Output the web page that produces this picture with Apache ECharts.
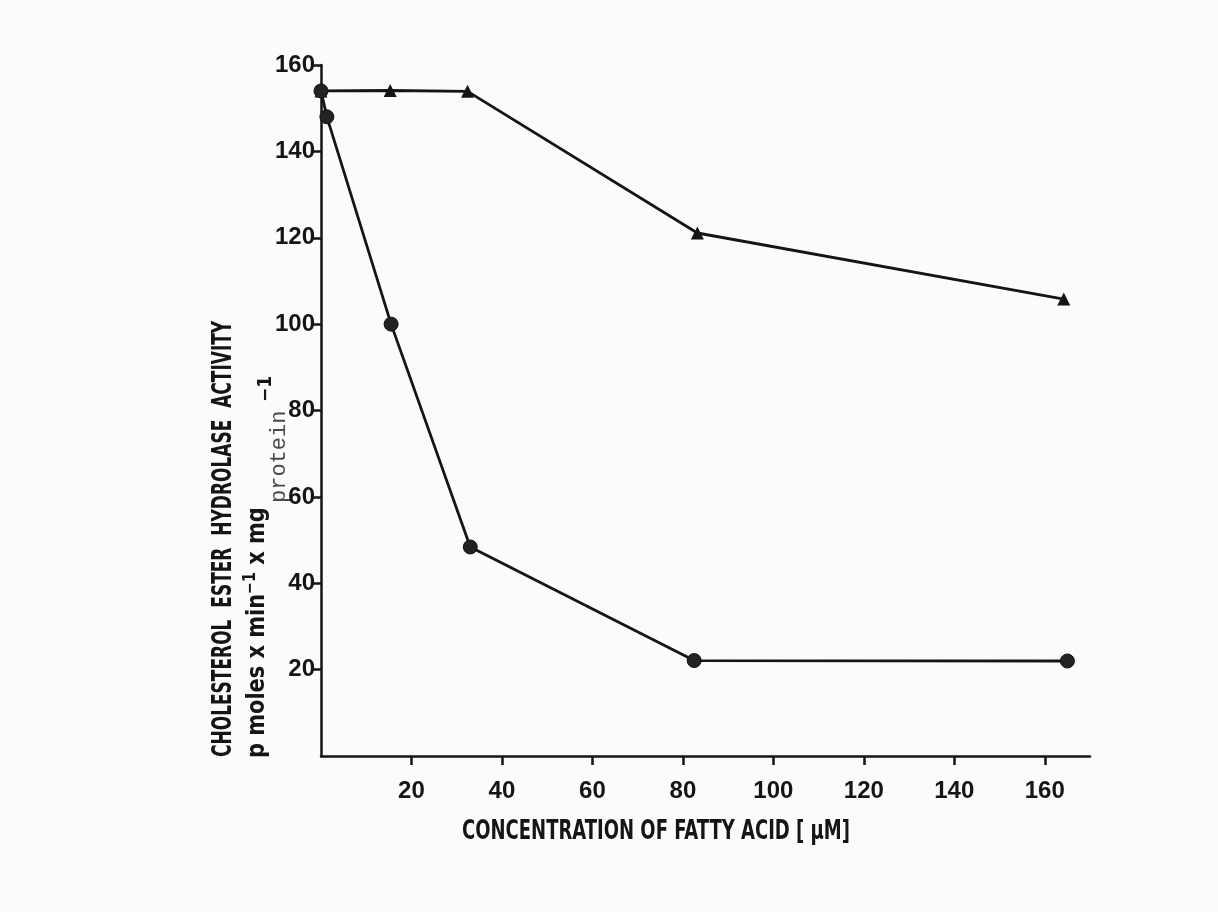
<!DOCTYPE html>
<html>
<head>
<meta charset="utf-8">
<script src="https://cdn.jsdelivr.net/npm/echarts@6/dist/echarts.min.js"></script>
<style>
html,body{margin:0;padding:0;background:#fbfbfa;}
#c{width:1218px;height:912px;}
</style>
</head>
<body>
<div id="c"></div>
<script>
// Data (concentration in µM, activity in pmol/min/mg protein)
const triangleX = [0, 15.3, 32.4, 83.2, 164.2];
const triangleY = [154, 154.1, 153.9, 121.1, 105.8];
const circleX = [0, 1.3, 15.5, 33.0, 82.5, 165.0];
const circleY = [154, 148, 100, 48.4, 22.1, 22.0];
const xTicks = [20, 40, 60, 80, 100, 120, 140, 160];
const yTicks = [20, 40, 60, 80, 100, 120, 140, 160];
const xTitle = 'CONCENTRATION OF FATTY ACID [ \u03bcM]';
const yTitle1 = 'CHOLESTEROL  ESTER  HYDROLASE  ACTIVITY';

const FONT = '"DejaVu Sans Condensed", "DejaVu Sans", sans-serif';
const TICKFONT = '"Liberation Sans", Arial, sans-serif';
const ink = '#151515';

const chart = echarts.init(document.getElementById('c'), null, {renderer: 'canvas'});

const tri = triangleX.map((x, i) => [x, triangleY[i]]);
const cir = circleX.map((x, i) => [x, circleY[i]]);

chart.setOption({
  backgroundColor: '#fbfbfa',
  animation: false,
  grid: {left: 321, right: 128, top: 65, bottom: 156, containLabel: false},
  xAxis: {
    type: 'value', min: 0, max: 170, interval: 20,
    splitLine: {show: false},
    axisLine: {show: true, lineStyle: {color: ink, width: 2.5}},
    axisTick: {show: true, length: 9, customValues: xTicks, lineStyle: {color: ink, width: 2.5}},
    axisLabel: {customValues: xTicks, color: ink, fontFamily: TICKFONT, fontWeight: 'bold', fontSize: 24, margin: 23}
  },
  yAxis: {
    type: 'value', min: 0, max: 160, interval: 20,
    splitLine: {show: false},
    axisLine: {show: true, lineStyle: {color: ink, width: 2.5}},
    axisTick: {show: true, length: 8, customValues: yTicks, lineStyle: {color: ink, width: 2.5}},
    axisLabel: {customValues: yTicks, color: ink, fontFamily: TICKFONT, fontWeight: 'bold', fontSize: 24, margin: 6}
  },
  series: [
    {
      type: 'line', data: tri, symbol: 'triangle', symbolSize: 13,
      lineStyle: {color: ink, width: 2.8},
      itemStyle: {color: ink},
      z: 2
    },
    {
      type: 'line', data: cir, symbol: 'circle', symbolSize: 14,
      lineStyle: {color: ink, width: 2.8},
      itemStyle: {color: '#222', borderColor: '#111', borderWidth: 1},
      z: 3
    }
  ],
  graphic: [
    {
      type: 'text', x: 462, y: 832, scaleX: 0.77,
      style: {text: xTitle, fill: ink, font: 'bold 26px ' + FONT, align: 'left', verticalAlign: 'middle'}
    },
    {
      type: 'text', x: 224, y: 757, rotation: Math.PI / 2, scaleX: 0.7,
      style: {text: yTitle1, fill: ink, font: 'bold 27px ' + FONT, align: 'left', verticalAlign: 'middle'}
    },
    {
      type: 'text', x: 256, y: 758, rotation: Math.PI / 2, scaleX: 0.93,
      style: {
        text: '{a|p moles x min}{s|\u22121}{a| x mg}',
        align: 'left', verticalAlign: 'middle',
        rich: {
          a: {fill: ink, font: 'bold 25px ' + FONT, verticalAlign: 'bottom'},
          s: {fill: ink, font: 'bold 17px ' + FONT, verticalAlign: 'top', padding: [0, 0, 10, 0]}
        }
      }
    },
    {
      type: 'text', x: 279, y: 503, rotation: Math.PI / 2,
      style: {text: 'protein', fill: '#4a4a4a', font: '22px "Liberation Mono", "DejaVu Sans Mono", monospace', align: 'left', verticalAlign: 'middle'}
    },
    {
      type: 'text', x: 266, y: 402, rotation: Math.PI / 2,
      style: {text: '\u22121', fill: ink, font: 'bold 19px ' + FONT, align: 'left', verticalAlign: 'middle'}
    }
  ]
});
</script>
</body>
</html>
